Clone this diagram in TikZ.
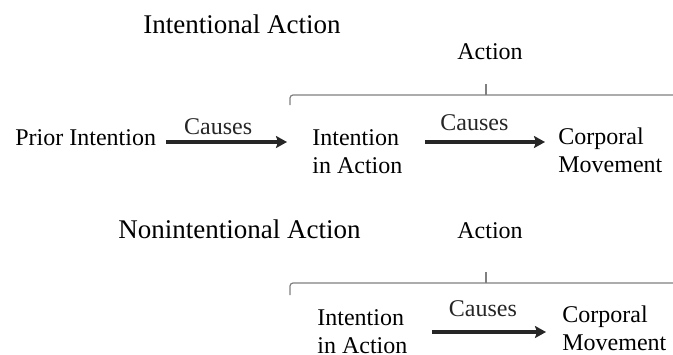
\documentclass[tikz,border=0pt]{standalone}
\usepackage{fontspec}
\setmainfont{Liberation Serif}
\usetikzlibrary{arrows.meta}
\begin{document}
\begin{tikzpicture}[x = 0.5pt, y = -0.5pt,
  label/.style = {inner sep = 0pt, font = \fontsize{12}{14}\selectfont},
  title/.style = {inner sep = 0pt, font = \fontsize{13.5}{16}\selectfont},
  causearrow/.style = {-{Stealth[length = 5.5pt, width = 6pt, inset = 1pt]}, line width = 1.7pt, black!85},
  bracket/.style = {gray, line width = 0.6pt, rounded corners = 1.5pt}]
\useasboundingbox (0,0) rectangle (673,354);
% intentional action
\node[title, anchor = base west] at (143,33) (t1) {Intentional Action};
\node[label, anchor = base west] at (457,59) (act1) {Action};
\draw[bracket] (290,105) -- (290,95) -- (673,95);
\draw[bracket] (486,95) -- (486,84);
\node[label, anchor = base west] at (15,145) (prior) {Prior Intention};
\node[label, anchor = north west, align = left] at (312,129.5) (intent1) {Intention\\in Action};
\node[label, anchor = north west, align = left] at (558,127.5) (move1) {Corporal\\Movement};
\coordinate (row1) at (0,142);
\draw[causearrow, shorten < = 5pt, shorten > = 12.5pt] (prior.east |- row1) -- (intent1.west |- row1)
  node[label, midway, above = 3pt, xshift = -8pt] (c1) {Causes};
\draw[causearrow, shorten < = 11pt, shorten > = 6.5pt] (intent1.east |- row1) -- (move1.west |- row1)
  node[label, midway, above = 5pt, xshift = -3pt] (c2) {Causes};
% nonintentional action
\node[title, anchor = base west] at (118,238) (t2) {Nonintentional Action};
\node[label, anchor = base west] at (457,238) (act2) {Action};
\draw[bracket] (290,295) -- (290,283) -- (673,283);
\draw[bracket] (486,283) -- (486,272);
\node[label, anchor = north west, align = left] at (317,309) (intent2) {Intention\\in Action};
\node[label, anchor = north west, align = left] at (562,305.5) (move2) {Corporal\\Movement};
\coordinate (row2) at (0,332);
\draw[causearrow, shorten < = 12pt, shorten > = 8pt] (intent2.east |- row2) -- (move2.west |- row2)
  node[label, midway, above = 7pt, xshift = -1pt] (c3) {Causes};
\end{tikzpicture}
\end{document}
